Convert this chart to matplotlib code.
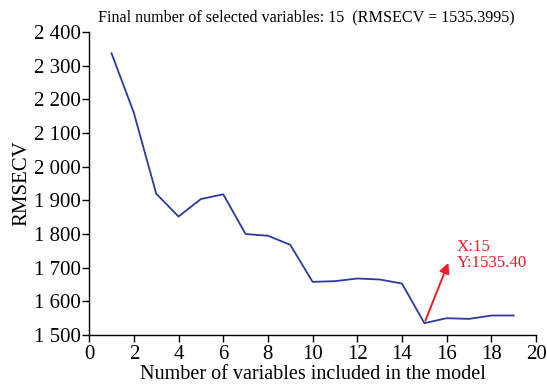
import matplotlib
matplotlib.use("Agg")
import matplotlib.pyplot as plt
from matplotlib.ticker import FuncFormatter, MultipleLocator

n_vars = [1, 2, 3, 4, 5, 6, 7, 8, 9, 10, 11, 12, 13, 14, 15, 16, 17, 18, 19]
rmsecv = [2337, 2160, 1920, 1852, 1904, 1918, 1800, 1795, 1768, 1658, 1660,
          1668, 1665, 1653, 1535.3995, 1550, 1548, 1558, 1558]
title_text = "Final number of selected variables: 15  (RMSECV = 1535.3995)"
best_x = 15
best_y = 1535.3995

plt.rcParams['font.family'] = ['Liberation Serif', 'DejaVu Serif']

fig = plt.figure(figsize=(5.47, 3.86), dpi=100)
ax = fig.add_axes([0.163, 0.132, 0.817, 0.785])
ax.plot(n_vars, rmsecv, color='#2c3a9f', lw=1.3)

ax.set_xlim(0, 20)
ax.set_ylim(1500, 2400)
ax.xaxis.set_major_locator(MultipleLocator(2))
ax.yaxis.set_major_locator(MultipleLocator(100))
ax.yaxis.set_major_formatter(FuncFormatter(lambda v, p: f"{int(v):,}".replace(",", " ")))
for s in ['top', 'right']:
    ax.spines[s].set_visible(False)
for s in ['left', 'bottom']:
    ax.spines[s].set_linewidth(1.0)
ax.tick_params(direction='out', length=5, width=1, labelsize=15, pad=1)
ax.tick_params(axis='x', pad=2)
ax.set_xlabel("Number of variables included in the model", fontsize=14.5, labelpad=1)
ax.set_ylabel("RMSECV", fontsize=15, labelpad=2)
fig.text(0.56, 0.955, title_text, ha='center', va='center', fontsize=11.6)

ax.annotate("", xy=(16.12, 1722), xytext=(best_x, best_y),
            arrowprops=dict(arrowstyle='-|>', color='#ee1c24', lw=1.4, mutation_scale=15))
ax.text(16.45, 1738, f"X:{best_x}\nY:{best_y:.2f}", color='#ee1c24', fontsize=12.2,
        ha='left', va='center', linespacing=1.05)

fig.savefig("out.png", dpi=100)
